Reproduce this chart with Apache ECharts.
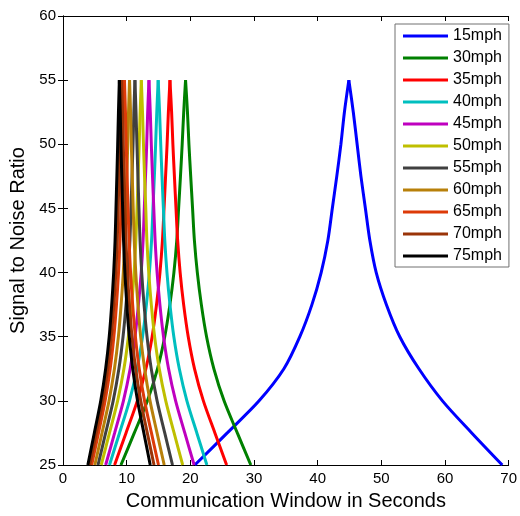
<!DOCTYPE html>
<html>
<head>
<meta charset="utf-8">
<script src="https://cdn.jsdelivr.net/npm/echarts@6/dist/echarts.min.js"></script>
<style>
html,body{margin:0;padding:0;background:#fff;}
#chart{width:520px;height:516px;}
</style>
</head>
<body>
<div id="chart"></div>
<script>
// SNR levels (y) for branch points, ascending from 25 to 52.5; peak is at 55
var snrLevels = [25, 27.5, 30, 32.5, 35, 37.5, 40, 42.5, 45, 47.5, 50, 52.5];
var peakSNR = 55;

var speedNames = ['15mph','30mph','35mph','40mph','45mph','50mph','55mph','60mph','65mph','70mph','75mph'];

// time (s) of the peak for each speed
var peakTime = [44.9, 19.25, 16.8, 14.95, 13.5, 12.3, 11.3, 10.45, 9.65, 9.2, 8.85];

// time (s) on the rising branch at each SNR level (ascending SNR)
var leftTime15 = [20.70, 25.80, 30.80, 34.70, 37.20, 39.10, 40.55, 41.60, 42.30, 43.00, 43.65, 44.20];
var leftTime30 = [9.10, 11.20, 13.26, 14.84, 15.98, 16.79, 17.42, 17.87, 18.16, 18.45, 18.72, 18.96];
var leftTime35 = [8.10, 9.90, 11.67, 13.02, 14.00, 14.69, 15.23, 15.62, 15.87, 16.11, 16.35, 16.55];
var leftTime40 = [7.30, 8.88, 10.44, 11.63, 12.49, 13.10, 13.57, 13.91, 14.13, 14.35, 14.55, 14.73];
var leftTime45 = [6.70, 8.11, 9.49, 10.55, 11.31, 11.85, 12.28, 12.58, 12.77, 12.96, 13.15, 13.30];
var leftTime50 = [6.00, 7.30, 8.58, 9.57, 10.27, 10.78, 11.17, 11.44, 11.63, 11.80, 11.97, 12.12];
var leftTime55 = [5.50, 6.70, 7.88, 8.78, 9.43, 9.90, 10.26, 10.51, 10.68, 10.84, 11.00, 11.13];
var leftTime60 = [5.00, 6.13, 7.23, 8.08, 8.70, 9.13, 9.47, 9.71, 9.87, 10.02, 10.17, 10.29];
var leftTime65 = [4.50, 5.57, 6.61, 7.41, 7.99, 8.40, 8.72, 8.95, 9.10, 9.24, 9.38, 9.50];
var leftTime70 = [4.20, 5.23, 6.25, 7.03, 7.59, 7.99, 8.30, 8.52, 8.66, 8.80, 8.94, 9.05];
var leftTime75 = [3.90, 4.92, 5.93, 6.70, 7.26, 7.65, 7.96, 8.18, 8.32, 8.46, 8.59, 8.71];

// time (s) on the falling branch at each SNR level (ascending SNR)
var rightTime15 = [69.00, 64.20, 59.60, 55.90, 52.90, 50.80, 49.20, 48.20, 47.50, 46.80, 46.20, 45.60];
var rightTime30 = [29.50, 27.38, 25.30, 23.70, 22.55, 21.73, 21.10, 20.64, 20.35, 20.06, 19.78, 19.55];
var rightTime35 = [25.70, 23.86, 22.05, 20.66, 19.67, 18.95, 18.40, 18.01, 17.75, 17.50, 17.26, 17.06];
var rightTime40 = [22.60, 21.02, 19.46, 18.27, 17.41, 16.80, 16.33, 15.99, 15.77, 15.55, 15.35, 15.17];
var rightTime45 = [20.60, 19.13, 17.69, 16.58, 15.79, 15.22, 14.78, 14.47, 14.26, 14.06, 13.87, 13.71];
var rightTime50 = [18.80, 17.45, 16.14, 15.12, 14.39, 13.87, 13.47, 13.18, 13.00, 12.81, 12.64, 12.49];
var rightTime55 = [17.20, 15.98, 14.78, 13.86, 13.20, 12.73, 12.36, 12.10, 11.93, 11.77, 11.61, 11.47];
var rightTime60 = [15.90, 14.77, 13.67, 12.82, 12.20, 11.77, 11.43, 11.19, 11.03, 10.88, 10.73, 10.61];
var rightTime65 = [15.00, 13.89, 12.81, 11.97, 11.37, 10.94, 10.61, 10.38, 10.22, 10.07, 9.93, 9.81];
var rightTime70 = [14.30, 13.24, 12.21, 11.41, 10.84, 10.43, 10.12, 9.89, 9.75, 9.60, 9.47, 9.35];
var rightTime75 = [13.70, 12.70, 11.71, 10.95, 10.41, 10.02, 9.72, 9.51, 9.37, 9.23, 9.10, 8.99];

var xTicks = [0, 10, 20, 30, 40, 50, 60, 70];
var yTicks = [25, 30, 35, 40, 45, 50, 55, 60];

var leftTimes = [leftTime15, leftTime30, leftTime35, leftTime40, leftTime45, leftTime50, leftTime55, leftTime60, leftTime65, leftTime70, leftTime75];
var rightTimes = [rightTime15, rightTime30, rightTime35, rightTime40, rightTime45, rightTime50, rightTime55, rightTime60, rightTime65, rightTime70, rightTime75];

var colors = ['#0000ff', '#008000', '#ff0000', '#00bfbf', '#bf00bf', '#bfbf00', '#404040', '#b8800a', '#dd3a08', '#9a3408', '#000000'];

function branch(times, i) {
  var pts = [];
  for (var k = 0; k < snrLevels.length; k++) pts.push([times[k], snrLevels[k]]);
  pts.push([peakTime[i], peakSNR]);
  return pts;
}

var series = [];
speedNames.forEach(function (name, i) {
  [leftTimes[i], rightTimes[i]].forEach(function (times) {
    series.push({
      name: name,
      type: 'line',
      data: branch(times, i),
      showSymbol: false,
      symbol: 'none',
      smooth: 0.3,
      clip: true,
      animation: false,
      lineStyle: { color: colors[i], width: 3 },
      itemStyle: { color: colors[i] },
      xAxisIndex: 0,
      yAxisIndex: 0
    });
  });
});

var font = 'Liberation Sans, Arial, Helvetica, sans-serif';
var axisLineStyle = { show: true, lineStyle: { color: '#000', width: 1 } };

var chart = echarts.init(document.getElementById('chart'), null, { renderer: 'canvas' });
chart.setOption({
  animation: false,
  backgroundColor: '#fff',
  color: colors,
  grid: { left: 63, right: 6, top: 16, bottom: 49, containLabel: false },
  legend: {
    left: 395,
    top: 24,
    orient: 'vertical',
    icon: 'rect',
    itemWidth: 45,
    itemHeight: 3,
    itemGap: 6,
    padding: [4, 7, 3, 8],
    borderColor: '#707070',
    borderWidth: 1,
    backgroundColor: '#fff',
    textStyle: { fontFamily: font, fontSize: 16, color: '#000', lineHeight: 16 },
    data: speedNames
  },
  xAxis: [{
    type: 'value', min: 0, max: 70, interval: 10,
    name: 'Communication Window in Seconds',
    nameLocation: 'middle', nameGap: 26,
    nameTextStyle: { fontFamily: font, fontSize: 20, color: '#000' },
    axisLine: axisLineStyle,
    axisTick: { show: true, inside: true, length: 5, lineStyle: { color: '#000' } },
    axisLabel: { fontFamily: font, fontSize: 15, color: '#000', margin: 6,
      formatter: function (v) { return xTicks.indexOf(v) >= 0 ? String(v) : ''; } },
    splitLine: { show: false }
  }, {
    type: 'value', min: 0, max: 70, interval: 10, position: 'top',
    axisLine: axisLineStyle,
    axisTick: { show: true, inside: true, length: 5, lineStyle: { color: '#000' } },
    axisLabel: { show: false },
    splitLine: { show: false }
  }],
  yAxis: [{
    type: 'value', min: 25, max: 60, interval: 5,
    name: 'Signal to Noise Ratio',
    nameLocation: 'middle', nameGap: 31,
    nameTextStyle: { fontFamily: font, fontSize: 20, color: '#000' },
    axisLine: axisLineStyle,
    axisTick: { show: true, inside: true, length: 5, lineStyle: { color: '#000' } },
    axisLabel: { fontFamily: font, fontSize: 15, color: '#000', margin: 7,
      formatter: function (v) { return yTicks.indexOf(v) >= 0 ? String(v) : ''; } },
    splitLine: { show: false }
  }, {
    type: 'value', min: 25, max: 60, interval: 5, position: 'right',
    axisLine: axisLineStyle,
    axisTick: { show: true, inside: true, length: 5, lineStyle: { color: '#000' } },
    axisLabel: { show: false },
    splitLine: { show: false }
  }],
  series: series
});
</script>
</body>
</html>
